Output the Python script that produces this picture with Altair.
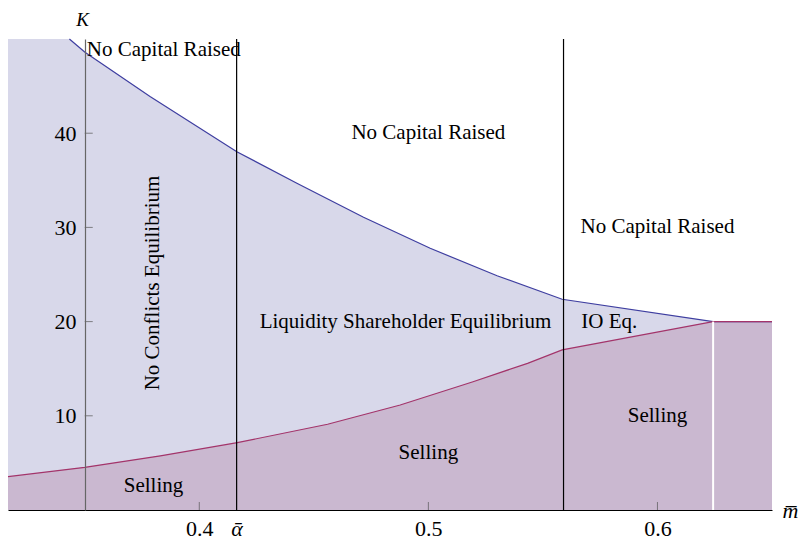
import altair as alt
import pandas as pd

# Upper boundary (blue curve) and lower boundary (magenta curve)
upper_x = [0.3165, 0.3433, 0.3501, 0.3785, 0.4164, 0.4426, 0.4717, 0.5008, 0.5300, 0.5584, 0.6243, 0.6500]
upper_k = [50.0, 50.0, 48.6, 43.9, 38.04, 34.68, 31.07, 27.78, 24.87, 22.37, 20.0, 20.0]
lower_x = [0.3165, 0.3500, 0.3830, 0.4166, 0.4560, 0.4877, 0.5195, 0.5433, 0.5584, 0.6243, 0.6500]
lower_k = [3.54, 4.53, 5.75, 7.15, 9.10, 11.15, 13.62, 15.57, 16.99, 20.0, 20.0]

# Vertical separators
vline_x = [0.4163, 0.559]
white_x = [0.6243]
white_top = [20.0]

# Tick values
x_ticks = [0.4, 0.5, 0.6]
alpha_bar = 0.4163
y_ticks = [10, 20, 30, 40]
y_axis_at = 0.35

# Region labels
labels = ["No Capital Raised", "No Capital Raised", "Liquidity Shareholder Equilibrium",
          "IO Eq.", "Selling", "Selling", "Selling"]
label_x = [0.5, 0.6, 0.49, 0.579, 0.380, 0.5, 0.6]
label_k = [40, 30, 20, 20, 2.6, 6, 10]
corner_label = ["No Capital Raised"]
corner_x = [0.3509]
corner_k = [48.85]
rot_label = ["No Conflicts Equilibrium"]
rot_x = [0.38]
rot_k = [24.1]

XDOM = [0.3165, 0.65]
YDOM = [0, 50]
FONT = "Liberation Serif"

up = pd.DataFrame({"x": upper_x, "k": upper_k})
lo = pd.DataFrame({"x": lower_x, "k": lower_k})

xs = alt.Scale(domain=XDOM, nice=False, zero=False)
ys = alt.Scale(domain=YDOM, nice=False, zero=False)

x_axis = alt.Axis(
    values=[0.4, alpha_bar, 0.5, 0.6],
    labelExpr="datum.value > 0.41 && datum.value < 0.42 ? 'ᾱ' : format(datum.value, '.1f')",
    labelFontStyle={"condition": {"test": "datum.value > 0.41 && datum.value < 0.42", "value": "italic"}, "value": "normal"},
    labelFont=FONT, labelFontSize=22, labelColor="black", labelPadding=8,
    labelOverlap=False, labelFlush=False,
    ticks=False, tickSize=0, grid=False, zindex=1,
    domainColor="black", domainWidth=1,
    title="m\u0305", titleFont=FONT, titleFontSize=22, titleFontStyle="italic",
    titleFontWeight="normal", titleColor="black",
    titleX=782, titleY=7, titleAlign="center", titleBaseline="alphabetic", titleAngle=0,
)
y_axis = alt.Axis(
    values=y_ticks, offset=-77,
    labelFont=FONT, labelFontSize=22, labelColor="black", labelPadding=9,
    ticks=False, tickSize=0, grid=False, zindex=1,
    domainColor="#666666", domainWidth=1.2,
    title="K", titleFont=FONT, titleFontSize=19, titleFontStyle="italic",
    titleFontWeight="normal", titleColor="black",
    titleX=-3, titleY=-14, titleAlign="center", titleBaseline="alphabetic", titleAngle=0,
)

base_up = alt.Chart(up)
area_up = base_up.mark_area(color="#D8D8EA", opacity=1).encode(
    x=alt.X("x:Q", scale=xs, axis=x_axis),
    y=alt.Y("k:Q", scale=ys, axis=y_axis),
    y2=alt.datum(0),
)
area_lo = alt.Chart(lo).mark_area(color="#CAB8D0", opacity=1).encode(
    x=alt.X("x:Q", scale=xs), y=alt.Y("k:Q", scale=ys), y2=alt.datum(0)
)
line_up = alt.Chart(up.iloc[1:]).mark_line(color="#3E3EA0", strokeWidth=1.2).encode(
    x=alt.X("x:Q", scale=xs), y=alt.Y("k:Q", scale=ys)
)
line_lo = alt.Chart(lo).mark_line(color="#A3346A", strokeWidth=1.2).encode(
    x=alt.X("x:Q", scale=xs), y=alt.Y("k:Q", scale=ys)
)
vlines = alt.Chart(pd.DataFrame({"x": vline_x, "top": [50] * len(vline_x)})).mark_rule(
    color="black", strokeWidth=1.2
).encode(x=alt.X("x:Q", scale=xs), y=alt.Y("top:Q", scale=ys), y2=alt.datum(0))
wline = alt.Chart(pd.DataFrame({"x": white_x, "top": white_top})).mark_rule(
    color="white", strokeWidth=2
).encode(x=alt.X("x:Q", scale=xs), y=alt.Y("top:Q", scale=ys), y2=alt.datum(0))

xt = alt.Chart(pd.DataFrame({"x": x_ticks, "k": [0] * len(x_ticks)})).mark_tick(
    orient="vertical", size=8, thickness=1, yOffset=-4, color="#555555"
).encode(x=alt.X("x:Q", scale=xs), y=alt.Y("k:Q", scale=ys))
yt = alt.Chart(pd.DataFrame({"x": [y_axis_at] * len(y_ticks), "k": y_ticks})).mark_tick(
    orient="horizontal", size=8, thickness=1, xOffset=4, color="#555555"
).encode(x=alt.X("x:Q", scale=xs), y=alt.Y("k:Q", scale=ys))

txt = alt.Chart(pd.DataFrame({"t": labels, "x": label_x, "k": label_k})).mark_text(
    font=FONT, fontSize=21, color="black", align="center", baseline="middle"
).encode(x=alt.X("x:Q", scale=xs), y=alt.Y("k:Q", scale=ys), text="t:N")
txt_corner = alt.Chart(pd.DataFrame({"t": corner_label, "x": corner_x, "k": corner_k})).mark_text(
    font=FONT, fontSize=21, color="black", align="left", baseline="middle"
).encode(x=alt.X("x:Q", scale=xs), y=alt.Y("k:Q", scale=ys), text="t:N")
txt_rot = alt.Chart(pd.DataFrame({"t": rot_label, "x": rot_x, "k": rot_k})).mark_text(
    font=FONT, fontSize=21, color="black", align="center", baseline="middle", angle=270
).encode(x=alt.X("x:Q", scale=xs), y=alt.Y("k:Q", scale=ys), text="t:N")

chart = alt.layer(
    area_up, area_lo, line_up, line_lo, wline, vlines, xt, yt, txt, txt_corner, txt_rot
).properties(
    width=764, height=471,
    padding={"left": 0, "top": 31, "right": 29, "bottom": 30},
    autosize="none", background="white",
).configure_view(stroke=None)

chart.save("out.html", embed_options={"renderer": "svg", "actions": False})
